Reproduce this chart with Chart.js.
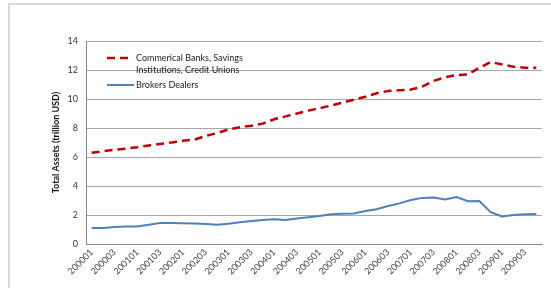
<!DOCTYPE html>
<html>
<head>
<meta charset="utf-8">
<script src="https://cdn.jsdelivr.net/npm/chart.js@4/dist/chart.umd.min.js"></script>
<style>
  html, body { margin: 0; padding: 0; background: #fff; }
  #wrap { position: relative; width: 551px; height: 288px; overflow: hidden; }
  #frame { position: absolute; left: 8px; top: 3px; right: -2px; bottom: -2px;
           border-left: 2px solid #d9d9d9; border-top: 2px solid #d9d9d9; }
  #ex_chart { position: absolute; left: 0; top: 0; }
  #legend { position: absolute; left: 106px; top: 52px; font-family: Lato, "Liberation Sans", sans-serif;
            font-size: 9px; color: #222; line-height: 12px; }
  .row { position: relative; padding-left: 30px; }
  .row svg { position: absolute; left: 0; top: 2px; }
</style>
</head>
<body>
<div id="wrap">
  <div id="frame"></div>
  <canvas id="ex_chart" width="551" height="288"></canvas>
  <div id="legend">
    <div class="row"><svg width="26" height="8"><line x1="1" y1="4" x2="26" y2="4" stroke="#c00000" stroke-width="2.5" stroke-dasharray="8,5"/></svg>Commerical Banks, Savings<br>Institutions, Credit Unions</div>
    <div class="row" style="margin-top:3px"><svg width="28" height="8"><line x1="1" y1="4" x2="28" y2="4" stroke="#4f81bd" stroke-width="2"/></svg>Brokers Dealers</div>
  </div>
</div>
<script>
var quarters = [
    "200001", "200002", "200003", "200004", "200101", "200102", "200103", "200104",
    "200201", "200202", "200203", "200204", "200301", "200302", "200303", "200304",
    "200401", "200402", "200403", "200404", "200501", "200502", "200503", "200504",
    "200601", "200602", "200603", "200604", "200701", "200702", "200703", "200704",
    "200801", "200802", "200803", "200804", "200901", "200902", "200903", "200904"
];

var banks = [
    6.29, 6.4, 6.5, 6.58, 6.68, 6.8, 6.9, 7.0,
    7.12, 7.2, 7.45, 7.65, 7.9, 8.05, 8.15, 8.3,
    8.6, 8.8, 9.0, 9.2, 9.37, 9.55, 9.75, 9.95,
    10.15, 10.4, 10.55, 10.6, 10.65, 10.85, 11.25, 11.5,
    11.65, 11.7, 12.15, 12.55, 12.38, 12.22, 12.16, 12.16
];

var brokers = [
    1.1, 1.1, 1.18, 1.2, 1.2, 1.32, 1.44, 1.44,
    1.43, 1.42, 1.38, 1.33, 1.4, 1.5, 1.58, 1.65,
    1.7, 1.65, 1.76, 1.85, 1.93, 2.05, 2.09, 2.1,
    2.27, 2.4, 2.62, 2.8, 3.03, 3.18, 3.2, 3.07,
    3.24, 2.95, 2.97, 2.2, 1.9, 2.0, 2.05, 2.07
];

var yTicks = [0, 2, 4, 6, 8, 10, 12, 14];

function InitializeGraph() {
    var ctx = document.getElementById('ex_chart');
    var font = "Lato, 'Liberation Sans', sans-serif";

    var data = {
        labels: quarters,
        datasets: [{
            label: "Commerical Banks, Savings Institutions, Credit Unions",
            data: banks,
            borderColor: '#c00000',
            backgroundColor: '#c00000',
            borderWidth: 2.5,
            borderDash: [8, 5],
            pointRadius: 0,
            fill: false,
            tension: 0
        }, {
            label: "Brokers Dealers",
            data: brokers,
            borderColor: '#4f81bd',
            backgroundColor: '#4f81bd',
            borderWidth: 2,
            pointRadius: 0,
            fill: false,
            tension: 0
        }]
    };

    var config = {
        responsive: false,
        animation: false,
        layout: { padding: { left: 0, right: 9, top: 41, bottom: 0 } },
        plugins: { legend: { display: false }, tooltip: { enabled: false } },
        scales: {
            x: {
                offset: true,
                grid: { display: false, drawTicks: false },
                border: { display: true, color: '#868686', width: 1 },
                ticks: {
                    autoSkip: false,
                    maxRotation: 45,
                    minRotation: 45,
                    padding: 3,
                    color: '#444',
                    font: { family: font, size: 9 },
                    callback: function (v, i) { return i % 2 === 0 ? quarters[i] : ''; }
                },
                afterFit: function (s) { s.height = 44; }
            },
            y: {
                min: 0,
                max: 14,
                afterBuildTicks: function (s) { s.ticks = yTicks.map(function (v) { return { value: v }; }); },
                grid: { color: '#a6a6a6', lineWidth: 1, drawTicks: false },
                border: { display: true, color: '#868686', width: 1 },
                ticks: {
                    padding: 8,
                    color: '#333',
                    font: { family: font, size: 9 }
                },
                title: {
                    display: true,
                    text: 'Total Assets (trillion USD)',
                    color: '#111',
                    font: { family: font, size: 9, weight: 'bold' },
                    padding: { top: 51, bottom: 0 }
                },
                afterFit: function (s) { s.width = 86; }
            }
        }
    };

    new Chart(ctx, {
        type: 'line',
        data: data,
        options: config
    });
}

InitializeGraph();
</script>
</body>
</html>
